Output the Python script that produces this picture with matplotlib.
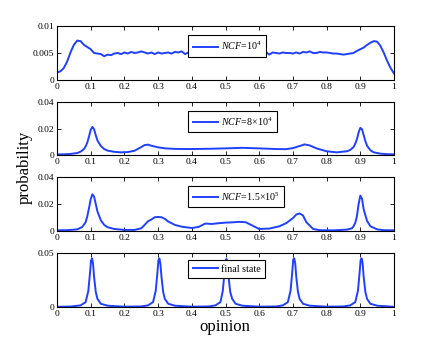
import matplotlib
matplotlib.use("Agg")
import matplotlib.pyplot as plt

plt.rcParams['font.family'] = ['Liberation Serif', 'DejaVu Serif']
plt.rcParams['mathtext.fontset'] = 'custom'
plt.rcParams['mathtext.rm'] = 'Liberation Serif'
plt.rcParams['mathtext.it'] = 'Liberation Serif:italic'

# ---------------- data ----------------
x1 = [i / 100 for i in range(101)]
y1 = [0.0014, 0.0016, 0.0022, 0.0034, 0.0051, 0.0065, 0.0073, 0.0072, 0.0065, 0.0061,
      0.0057, 0.0050, 0.0049, 0.0048, 0.0044, 0.0047, 0.0046, 0.0049, 0.0050, 0.0048,
      0.0051, 0.0049, 0.0052, 0.0050, 0.0051, 0.0053, 0.0051, 0.0049, 0.0051, 0.0048,
      0.0051, 0.0049, 0.0050, 0.0051, 0.0049, 0.0052, 0.0051, 0.0053, 0.0048, 0.0051,
      0.0050, 0.0051, 0.0049, 0.0050, 0.0052, 0.0050, 0.0049, 0.0051, 0.0050, 0.0052,
      0.0050, 0.0049, 0.0051, 0.0050, 0.0050, 0.0052, 0.0049, 0.0050, 0.0051, 0.0050,
      0.0051, 0.0049, 0.0052, 0.0047, 0.0051, 0.0050, 0.0049, 0.0051, 0.0050, 0.0050,
      0.0049, 0.0051, 0.0049, 0.0052, 0.0051, 0.0053, 0.0050, 0.0050, 0.0052, 0.0051,
      0.0051, 0.0050, 0.0049, 0.0049, 0.0048, 0.0047, 0.0048, 0.0049, 0.0050, 0.0054,
      0.0057, 0.0060, 0.0065, 0.0069, 0.0072, 0.0071, 0.0063, 0.0050, 0.0035, 0.0022,
      0.0012]

x2 = [0, 0.02, 0.04, 0.06, 0.07,
      0.08, 0.085, 0.09, 0.095, 0.1,
      0.105, 0.11, 0.115, 0.12, 0.13,
      0.14, 0.15, 0.17, 0.19, 0.21,
      0.23, 0.25, 0.26, 0.27, 0.28,
      0.3, 0.32, 0.35, 0.4, 0.45,
      0.5, 0.55, 0.6, 0.65, 0.68,
      0.7, 0.72, 0.735, 0.75, 0.77,
      0.8, 0.83, 0.86, 0.87, 0.88,
      0.885, 0.89, 0.895, 0.9, 0.905,
      0.91, 0.915, 0.92, 0.93, 0.94,
      0.96, 0.98, 1.0]
y2 = [0.0005, 0.0005, 0.0008, 0.0015, 0.0025,
      0.0045, 0.0065, 0.0095, 0.0140, 0.0190,
      0.0212, 0.0195, 0.0150, 0.0110, 0.0068,
      0.0045, 0.0033, 0.0024, 0.0020, 0.0022,
      0.0032, 0.0060, 0.0075, 0.0078, 0.0070,
      0.0058, 0.0050, 0.0046, 0.0045, 0.0047,
      0.0050, 0.0054, 0.0050, 0.0045, 0.0044,
      0.0052, 0.0068, 0.0080, 0.0072, 0.0050,
      0.0028, 0.0020, 0.0028, 0.0038, 0.0060,
      0.0085, 0.0120, 0.0170, 0.0205, 0.0195,
      0.0150, 0.0105, 0.0070, 0.0035, 0.0020,
      0.0010, 0.0006, 0.0005]

x3 = [0, 0.03, 0.06, 0.075, 0.085,
      0.09, 0.095, 0.1, 0.105, 0.11,
      0.115, 0.12, 0.13, 0.14, 0.15,
      0.17, 0.2, 0.23, 0.25, 0.26,
      0.27, 0.28, 0.29, 0.3, 0.31,
      0.32, 0.33, 0.35, 0.37, 0.4,
      0.42, 0.44, 0.46, 0.48, 0.5,
      0.52, 0.54, 0.56, 0.58, 0.6,
      0.63, 0.66, 0.68, 0.7, 0.71,
      0.72, 0.73, 0.74, 0.76, 0.78,
      0.82, 0.86, 0.875, 0.88, 0.885,
      0.89, 0.895, 0.9, 0.905, 0.91,
      0.92, 0.93, 0.95, 0.97, 1.0]
y3 = [0.0005, 0.0006, 0.0012, 0.0030, 0.0065,
      0.0110, 0.0170, 0.0235, 0.0272, 0.0255,
      0.0200, 0.0145, 0.0080, 0.0045, 0.0028,
      0.0015, 0.0008, 0.0008, 0.0020, 0.0045,
      0.0072, 0.0085, 0.0102, 0.0104, 0.0102,
      0.0090, 0.0070, 0.0045, 0.0032, 0.0022,
      0.0030, 0.0055, 0.0052, 0.0058, 0.0062,
      0.0064, 0.0068, 0.0065, 0.0040, 0.0015,
      0.0018, 0.0035, 0.0058, 0.0095, 0.0122,
      0.0130, 0.0115, 0.0065, 0.0015, 0.0006,
      0.0005, 0.0010, 0.0020, 0.0035, 0.0060,
      0.0110, 0.0200, 0.0262, 0.0240, 0.0160,
      0.0075, 0.0035, 0.0012, 0.0006, 0.0005]

x4 = [0, 0.04, 0.07, 0.085, 0.093,
      0.098, 0.101, 0.104, 0.107, 0.11,
      0.115, 0.12, 0.13, 0.15, 0.2,
      0.25, 0.27, 0.285, 0.293, 0.298,
      0.301, 0.304, 0.307, 0.31, 0.315,
      0.32, 0.33, 0.35, 0.4, 0.45,
      0.47, 0.485, 0.492, 0.497, 0.5,
      0.503, 0.506, 0.509, 0.514, 0.52,
      0.53, 0.55, 0.6, 0.65, 0.67,
      0.685, 0.693, 0.698, 0.701, 0.704,
      0.707, 0.71, 0.715, 0.72, 0.73,
      0.75, 0.8, 0.85, 0.87, 0.885,
      0.893, 0.898, 0.901, 0.904, 0.907,
      0.91, 0.915, 0.92, 0.93, 0.95,
      1.0]
y4 = [0.0002, 0.0004, 0.0015, 0.0045, 0.0150,
      0.0320, 0.0430, 0.0450, 0.0400, 0.0280,
      0.0140, 0.0075, 0.0030, 0.0012, 0.0003,
      0.0005, 0.0015, 0.0045, 0.0150, 0.0320,
      0.0435, 0.0450, 0.0395, 0.0280, 0.0140,
      0.0075, 0.0030, 0.0012, 0.0003, 0.0005,
      0.0015, 0.0045, 0.0150, 0.0320, 0.0430,
      0.0445, 0.0400, 0.0280, 0.0140, 0.0075,
      0.0030, 0.0012, 0.0003, 0.0005, 0.0015,
      0.0045, 0.0150, 0.0320, 0.0440, 0.0450,
      0.0400, 0.0280, 0.0140, 0.0075, 0.0030,
      0.0012, 0.0003, 0.0005, 0.0015, 0.0045,
      0.0150, 0.0320, 0.0435, 0.0450, 0.0400,
      0.0280, 0.0140, 0.0075, 0.0030, 0.0012,
      0.0002]

labels = [r'$\mathit{NCF\!=\!10^4}$',
          r'$\mathit{NCF\!=\!8{\times}10^4}$',
          r'$\mathit{NCF\!=\!1.5{\times}10^5}$',
          'final state']
ylims = [0.01, 0.04, 0.04, 0.05]
yticks = [[0, 0.005, 0.01], [0, 0.02, 0.04], [0, 0.02, 0.04], [0, 0.05]]
yticklabels = [['0', '0.005', '0.01'], ['0', '0.02', '0.04'],
               ['0', '0.02', '0.04'], ['0', '0.05']]
xticks = [0, 0.1, 0.2, 0.3, 0.4, 0.5, 0.6, 0.7, 0.8, 0.9, 1]
xticklabels = ['0', '0.1', '0.2', '0.3', '0.4', '0.5', '0.6', '0.7', '0.8', '0.9', '1']

# ---------------- figure ----------------
W, H = 436, 346
fig = plt.figure(figsize=(W / 100, H / 100), dpi=100)

# axes boxes in pixels: (left, top, right, bottom)
boxes = [(57, 26, 394, 80), (57, 102, 394, 155), (57, 177, 394, 231), (57, 253, 394, 307)]
leg_anchor = [(0.389, 0.825), (0.389, 0.83), (0.389, 0.833), (0.389, 0.87)]
series = [(x1, y1), (x2, y2), (x3, y3), (x4, y4)]
color = '#2040ff'

for i, (l, t, r, b) in enumerate(boxes):
    ax = fig.add_axes([l / W, (H - b) / H, (r - l) / W, (b - t) / H])
    xs, ys = series[i]
    ax.plot(xs, ys, color=color, lw=1.4, label=labels[i])
    ax.set_xlim(0, 1)
    ax.set_ylim(0, ylims[i])
    ax.set_xticks(xticks)
    ax.set_xticklabels(xticklabels)
    ax.set_yticks(yticks[i])
    ax.set_yticklabels(yticklabels[i])
    ax.tick_params(direction='in', length=3, width=0.6, labelsize=6.8,
                   top=True, right=True, pad=2)
    for s in ax.spines.values():
        s.set_linewidth(0.8)
    leg = ax.legend(loc='upper left', bbox_to_anchor=leg_anchor[i], borderaxespad=0,
                    fancybox=False, framealpha=1, edgecolor='black', fontsize=7.2,
                    handlelength=2.5, handletextpad=0.3, borderpad=0.45)
    leg.get_frame().set_linewidth(0.8)

fig.text(25 / W, (H - 167) / H, 'probability', rotation=90, ha='center', va='center',
         fontsize=12)
fig.text(225 / W, (H - 327) / H, 'opinion', ha='center', va='center', fontsize=12)

fig.savefig('out.png', dpi=100)
